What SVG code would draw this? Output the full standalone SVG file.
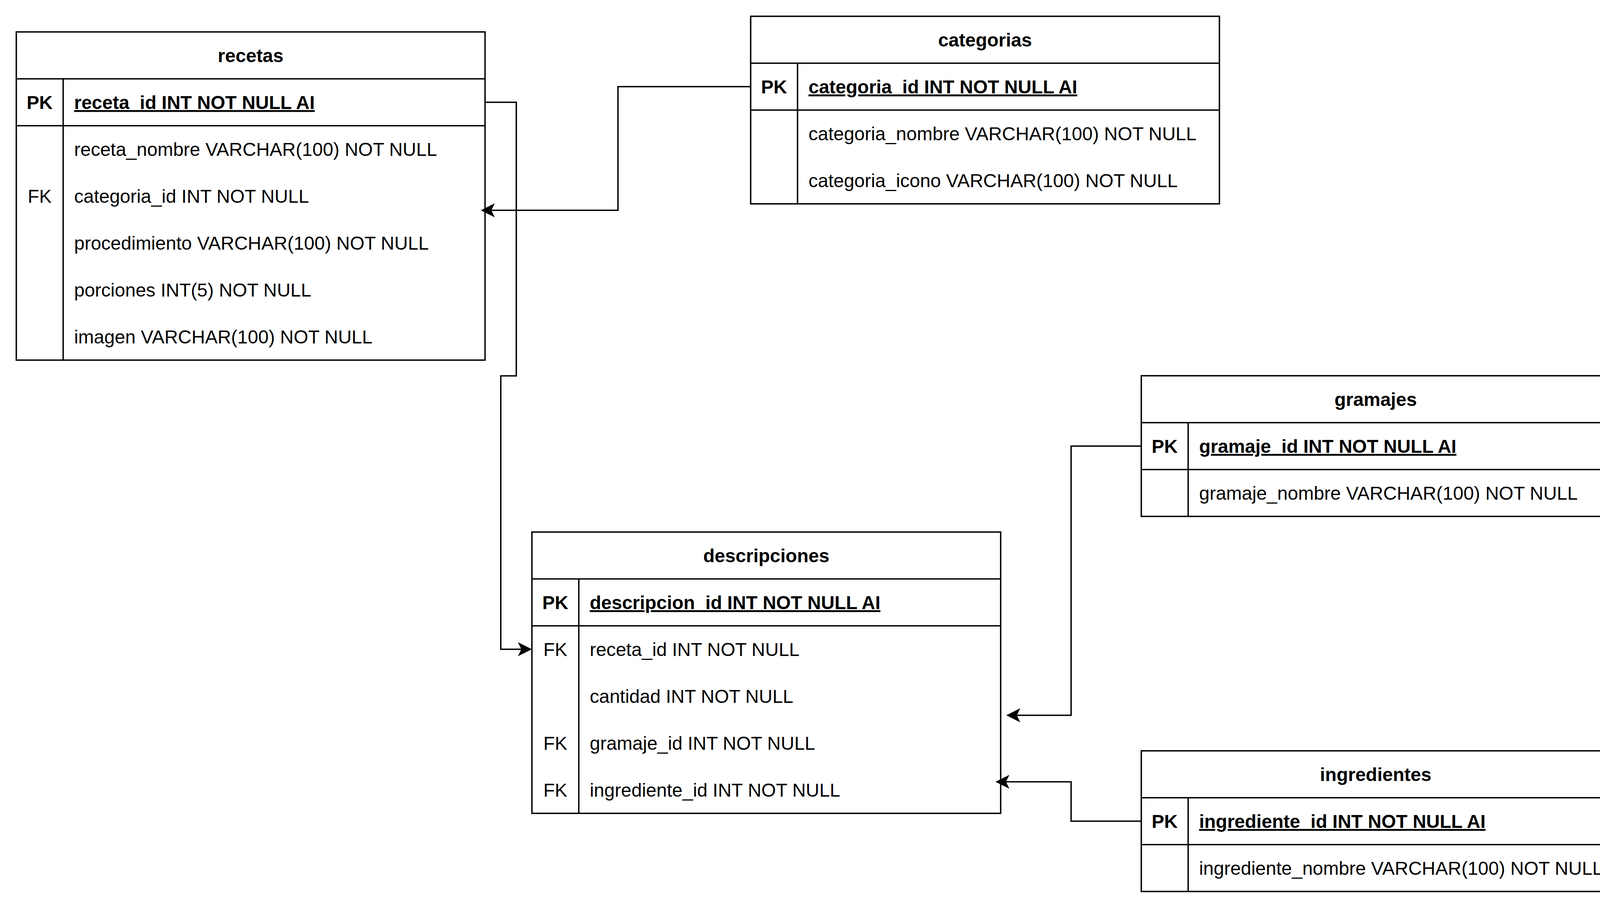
<svg xmlns="http://www.w3.org/2000/svg" width="4168" height="2324" viewBox="0 0 4168 2324">
<style>
.bg{fill:#ffffff}
.tb{fill:#ffffff;stroke:#000000;stroke-width:3.6}
.ln{stroke:#000000;stroke-width:3.6;fill:none}
.t{font-family:"Liberation Sans",Arial,Helvetica,sans-serif;font-size:48px;fill:#000000}
.b{font-weight:bold}
.u{text-decoration:underline}
.c{text-anchor:middle}
.edge{stroke:#000000;stroke-width:3.6;fill:none;marker-end:url(#arrow)}
</style>
<defs>
<marker id="arrow" markerUnits="userSpaceOnUse" viewBox="0 0 36 36" refX="9" refY="18" markerWidth="36" markerHeight="36" orient="auto">
<path d="M0,0 L36,18 L0,36 L9,18 Z" fill="#000000"/>
</marker>
</defs>
<rect class="bg" x="0" y="0" width="4168" height="2324"/>

<g id="recetas" transform="translate(41.7,81.7)">
<rect class="tb" x="0" y="0" width="1200" height="840"/>
<line class="ln" x1="0" y1="120" x2="1200" y2="120"/>
<line class="ln" x1="0" y1="240" x2="1200" y2="240"/>
<line class="ln" x1="120" y1="120" x2="120" y2="840"/>
<text class="t b c" x="600" y="77">recetas</text>
<text class="t b c" x="60" y="197">PK</text>
<text class="t b u" x="148" y="197">receta_id INT NOT NULL AI</text>
<text class="t" x="148" y="317">receta_nombre VARCHAR(100) NOT NULL</text>
<text class="t c" x="60" y="437">FK</text>
<text class="t" x="148" y="437">categoria_id INT NOT NULL</text>
<text class="t" x="148" y="557">procedimiento VARCHAR(100) NOT NULL</text>
<text class="t" x="148" y="677">porciones INT(5) NOT NULL</text>
<text class="t" x="148" y="797">imagen VARCHAR(100) NOT NULL</text>
</g>

<g id="categorias" transform="translate(1921.7,41.7)">
<rect class="tb" x="0" y="0" width="1200" height="480"/>
<line class="ln" x1="0" y1="120" x2="1200" y2="120"/>
<line class="ln" x1="0" y1="240" x2="1200" y2="240"/>
<line class="ln" x1="120" y1="120" x2="120" y2="480"/>
<text class="t b c" x="600" y="77">categorias</text>
<text class="t b c" x="60" y="197">PK</text>
<text class="t b u" x="148" y="197">categoria_id INT NOT NULL AI</text>
<text class="t" x="148" y="317">categoria_nombre VARCHAR(100) NOT NULL</text>
<text class="t" x="148" y="437">categoria_icono VARCHAR(100) NOT NULL</text>
</g>

<g id="gramajes" transform="translate(2921.7,961.7)">
<rect class="tb" x="0" y="0" width="1200" height="360"/>
<line class="ln" x1="0" y1="120" x2="1200" y2="120"/>
<line class="ln" x1="0" y1="240" x2="1200" y2="240"/>
<line class="ln" x1="120" y1="120" x2="120" y2="360"/>
<text class="t b c" x="600" y="77">gramajes</text>
<text class="t b c" x="60" y="197">PK</text>
<text class="t b u" x="148" y="197">gramaje_id INT NOT NULL AI</text>
<text class="t" x="148" y="317">gramaje_nombre VARCHAR(100) NOT NULL</text>
</g>

<g id="descripciones" transform="translate(1361.7,1361.7)">
<rect class="tb" x="0" y="0" width="1200" height="720"/>
<line class="ln" x1="0" y1="120" x2="1200" y2="120"/>
<line class="ln" x1="0" y1="240" x2="1200" y2="240"/>
<line class="ln" x1="120" y1="120" x2="120" y2="720"/>
<text class="t b c" x="600" y="77">descripciones</text>
<text class="t b c" x="60" y="197">PK</text>
<text class="t b u" x="148" y="197">descripcion_id INT NOT NULL AI</text>
<text class="t c" x="60" y="317">FK</text>
<text class="t" x="148" y="317">receta_id INT NOT NULL</text>
<text class="t" x="148" y="437">cantidad INT NOT NULL</text>
<text class="t c" x="60" y="557">FK</text>
<text class="t" x="148" y="557">gramaje_id INT NOT NULL</text>
<text class="t c" x="60" y="677">FK</text>
<text class="t" x="148" y="677">ingrediente_id INT NOT NULL</text>
</g>

<g id="ingredientes" transform="translate(2921.7,1921.7)">
<rect class="tb" x="0" y="0" width="1200" height="360"/>
<line class="ln" x1="0" y1="120" x2="1200" y2="120"/>
<line class="ln" x1="0" y1="240" x2="1200" y2="240"/>
<line class="ln" x1="120" y1="120" x2="120" y2="360"/>
<text class="t b c" x="600" y="77">ingredientes</text>
<text class="t b c" x="60" y="197">PK</text>
<text class="t b u" x="148" y="197">ingrediente_id INT NOT NULL AI</text>
<text class="t" x="148" y="317">ingrediente_nombre VARCHAR(100) NOT NULL</text>
</g>

<g id="connectors">
<path class="edge" d="M1921.7,221.7 H1582 V538.3 H1257.7"/>
<path class="edge" d="M1241.7,261.7 H1321.7 V962 H1282 V1661.7 H1334.7"/>
<path class="edge" d="M2921.7,1141.7 H2742 V1830.7 H2603"/>
<path class="edge" d="M2921.7,2101.7 H2742 V2001 H2575.3"/>
</g>
</svg>
